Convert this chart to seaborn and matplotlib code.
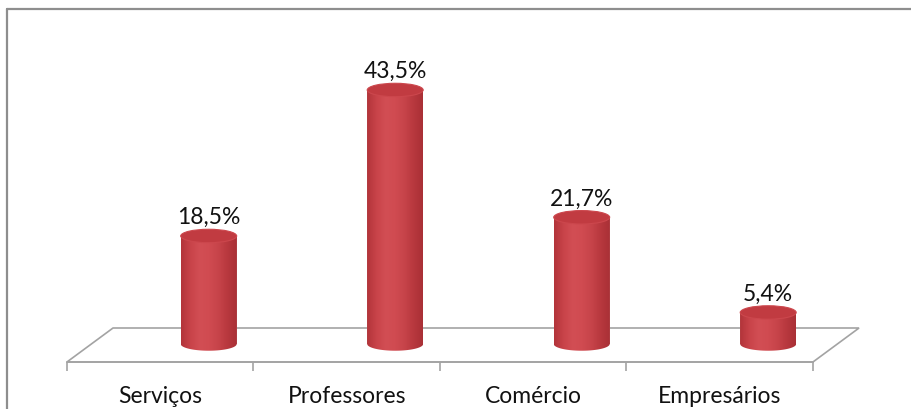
import numpy as np
import pandas as pd
import matplotlib
matplotlib.use("Agg")
import matplotlib.pyplot as plt
from matplotlib.patches import Ellipse, Polygon, PathPatch
from matplotlib.path import Path
from matplotlib.lines import Line2D
from matplotlib.colors import LinearSegmentedColormap
import seaborn as sns

categories = ["Serviços", "Professores", "Comércio", "Empresários"]
percentages = [18.5, 43.5, 21.7, 5.4]

sns.set_style("white")
plt.rcParams["font.family"] = ["Lato", "DejaVu Sans"]

GRAY = "#A3A3A3"
TEXT_SIZE = 16.5
fig = plt.figure(figsize=(9.12, 4.10), dpi=100)
ax = fig.add_axes([0, 0, 1, 1])

df = pd.DataFrame({"categoria": categories, "percentual": percentages})
sns.barplot(data=df, x="categoria", y="percentual", width=0.30,
            color="#C84349", linewidth=0, ax=ax, zorder=3)
bars = list(ax.patches)

# perspective parameters of the 3D-looking floor
depth_dx = 0.247      # horizontal shift of the back edge (category units)
floor_front = -3.08   # floor front edge (value units)
floor_back = 2.74     # floor back edge
bar_shift = 0.26      # cylinders stand towards the back of the floor
ell_h = 2.3           # height of the cylinder caps (value units)

floor = Polygon([(-0.5, floor_front), (3.5, floor_front),
                 (3.5 + depth_dx, floor_back), (-0.5 + depth_dx, floor_back)],
                closed=True, facecolor="white", edgecolor=GRAY, lw=1.2, zorder=1)
ax.add_patch(floor)

cyl_cmap = LinearSegmentedColormap.from_list(
    "cyl", ["#B2343A", "#C84349", "#D24E54", "#D04B51", "#C7444A", "#B8383E", "#A93036"])

for bar, val in zip(bars, percentages):
    x0 = bar.get_x() + bar_shift
    w = bar.get_width()
    h = bar.get_height()
    bar.set_x(x0)
    cx = x0 + w / 2
    a, b = w / 2, ell_h / 2

    theta = np.linspace(np.pi, 2 * np.pi, 80)
    arc = np.column_stack([cx + a * np.cos(theta), b * np.sin(theta)])
    verts = np.vstack([[x0, h], arc, [x0 + w, h], [x0, h]])
    codes = [Path.MOVETO] + [Path.LINETO] * (len(verts) - 2) + [Path.CLOSEPOLY]
    body = PathPatch(Path(verts, codes), transform=ax.transData,
                     facecolor="none", edgecolor="none")
    ax.add_patch(body)
    grad = np.linspace(0, 1, 256).reshape(1, -1)
    im = ax.imshow(grad, cmap=cyl_cmap, extent=[x0, x0 + w, -b, h],
                   aspect="auto", zorder=4, interpolation="bilinear")
    im.set_clip_path(body)

    top = Ellipse((cx, h), w, ell_h, facecolor="#C13B41",
                  edgecolor="#CC474D", lw=0.8, zorder=5)
    ax.add_patch(top)

    label = f"{val:.1f}".replace(".", ",") + "%"
    ax.annotate(label, xy=(cx, h + b), xytext=(0, 1.5), textcoords="offset points",
                ha="center", va="bottom", fontsize=TEXT_SIZE, color="#111111", zorder=6)

# axis: front edge of the floor with ticks at category boundaries
ax.set_xlim(-0.859, 4.031)
ax.set_ylim(-11.13, 59.08)
for s in ["top", "right", "left"]:
    ax.spines[s].set_visible(False)
ax.spines["bottom"].set_position(("data", floor_front))
ax.spines["bottom"].set_bounds(-0.5, 3.5)
ax.spines["bottom"].set_color(GRAY)
ax.spines["bottom"].set_linewidth(1.2)
ax.set_xticks([-0.5, 0.5, 1.5, 2.5, 3.5], labels=[""] * 5)
ax.set_xticks(range(len(categories)), labels=categories, minor=True)
ax.tick_params(axis="x", which="major", length=6.5, width=1.2, color=GRAY, bottom=True)
ax.tick_params(axis="x", which="minor", length=0, pad=16.5, labelsize=TEXT_SIZE,
               labelcolor="#111111", bottom=True)
ax.set_yticks([])
ax.set_xlabel("")
ax.set_ylabel("")

# chart frame
fx = 7 / 912
fy = 1 - 10 / 410
fig.add_artist(Line2D([fx, fx], [0, fy], transform=fig.transFigure, color="#8E8E8E", lw=1.6))
fig.add_artist(Line2D([fx, 1], [fy, fy], transform=fig.transFigure, color="#8E8E8E", lw=1.6))

fig.savefig("out.png", dpi=100, facecolor="white")
